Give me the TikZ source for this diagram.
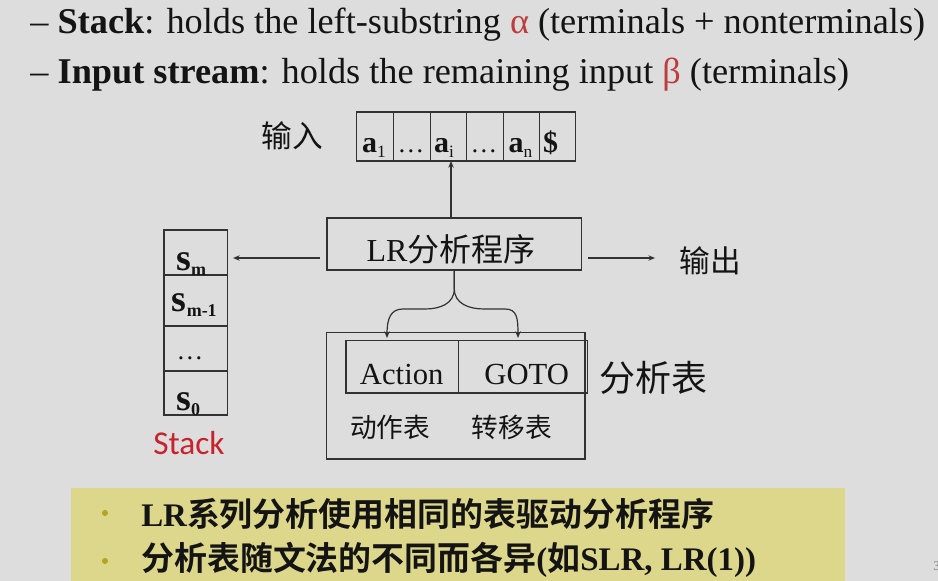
\documentclass[tikz,border=0pt]{standalone}
\usepackage{fontspec}
\setmainfont{Liberation Serif}
\newfontfamily\cjk{Noto Sans CJK SC}[BoldFont={Noto Sans CJK SC Bold}]
\newfontfamily\labelsans{Carlito}
\usetikzlibrary{arrows.meta}

\definecolor{bg}{RGB}{221,221,221}
\definecolor{notebg}{RGB}{221,215,140}
\definecolor{bulletc}{RGB}{178,165,40}
\definecolor{linec}{RGB}{50,50,50}
\definecolor{textc}{RGB}{20,20,20}
\definecolor{greek}{RGB}{190,60,60}
\definecolor{stackred}{RGB}{200,35,45}

\newcommand{\fsz}[1]{\fontsize{#1}{#1}\selectfont}
\newcommand{\tapeidx}[1]{\raisebox{-0.35ex}{\fsz{13pt}#1}}
\newcommand{\stackidx}[1]{\raisebox{-0.3ex}{\fsz{13.5pt}\bfseries #1}}

\tikzset{
  box/.style={draw=linec, line width=1.1pt},
  arr/.style={draw=linec, line width=0.9pt, -{Stealth[length=5pt,width=4pt]}},
  txt/.style={text=textc, inner sep=0pt},
}

\begin{document}
\begin{tikzpicture}[x=0.75pt,y=-0.75pt]
  % page
  \fill[bg] (0,0) rectangle (938,581);
  \useasboundingbox (0,0) rectangle (938,581);

  % heading lines
  \node[txt, anchor=base west, font=\fsz{27.2pt}] (l1) at (30,34)
    {– \textbf{Stack}: holds the left-substring {\color{greek}α} (terminals + nonterminals)};
  \node[txt, anchor=base west, font=\fsz{27.2pt}] (l2) at (30,84)
    {– \textbf{Input stream}: holds the remaining input {\color{greek}β} (terminals)};

  % input tape
  \draw[box] (356.7,112) rectangle (575.7,161);
  \foreach \x in {393.3,430.7,466.7,503.3,539.3}
    \draw[box] (\x,112) -- (\x,161);
  \node[txt, font=\fsz{23pt}\cjk] (inlab) at (292,136) {输入};
  \node[txt, anchor=base, font=\fsz{22.5pt}] (t1) at (374,153) {\textbf{a}\tapeidx{1}};
  \node[txt, anchor=base, font=\fsz{20pt}] (t2) at (411,153) {\ldots};
  \node[txt, anchor=base, font=\fsz{22.5pt}] (t3) at (444,153) {\textbf{a}\tapeidx{i}};
  \node[txt, anchor=base, font=\fsz{20pt}] (t4) at (484,153) {\ldots};
  \node[txt, anchor=base, font=\fsz{22.5pt}] (t5) at (520.5,153) {\textbf{a}\tapeidx{n}};
  \node[txt, anchor=base, font=\fsz{22.5pt}] (t6) at (550.5,153) {\textbf{\$}};
  \coordinate (ai) at (451,161);

  % driver program
  \node[box, minimum width=191pt, minimum height=39pt, inner sep=0pt] (lr) at (454.3,244) {};
  \node[txt, font=\fsz{24pt}] (lrtext) at (451,249) {LR{\cjk 分析程序}};
  \draw[arr] (lr.north -| ai) -- (ai);

  % stack
  \draw[box] (164,230) rectangle (227.7,415);
  \foreach \y in {275,326,371}
    \draw[box] (164,\y) -- (227.7,\y);
  \node[txt, anchor=base west, font=\fsz{28.5pt}] (sm) at (176,270) {\textbf{s}\stackidx{m}};
  \node[txt, anchor=base west, font=\fsz{28.5pt}] (sm1) at (171.7,311.7) {\textbf{s}\stackidx{m-1}};
  \node[txt, font=\fsz{20pt}] (sdots) at (190,358) {\ldots};
  \node[txt, anchor=base west, font=\fsz{28.5pt}] (s0) at (176,410) {\textbf{s}\stackidx{0}};
  \node[inner sep=0pt, text=stackred, font=\fsz{25pt}\labelsans] (stacklab) at (189,443) {Stack};

  \coordinate (lrleft) at (320,258);
  \coordinate (stacktop) at (233,258);
  \draw[arr] (lrleft) -- (stacktop);

  % output
  \node[txt, font=\fsz{23pt}\cjk] (outlab) at (710,261) {输出};
  \coordinate (lrright) at (588,258);
  \draw[arr] (lrright) -- ([xshift=-18pt]outlab.west |- lrright);

  % parsing table
  \draw[box] (326.7,332.7) rectangle (585,459);
  \draw[box] (346,340.7) rectangle (587.7,393);
  \draw[box] (458.3,340.7) -- (458.3,393);
  \node[txt, font=\fsz{23pt}] (action) at (401.7,374) {Action};
  \node[txt, font=\fsz{23pt}] (goto) at (526.7,374) {GOTO};
  \node[txt, font=\fsz{27pt}\cjk] (tablab) at (653,378) {分析表};
  \node[txt, font=\fsz{20pt}\cjk] (actlab) at (390,427) {动作表};
  \node[txt, font=\fsz{20pt}\cjk] (golab) at (511.7,427) {转移表};

  % brace-shaped fork from the driver to both tables
  \coordinate (actin) at (387,338);
  \coordinate (gotoin) at (518,338);
  \draw[arr] (lr.south) -- ++(0,18) .. controls +(0,15) and (440,309) .. (425,309)
    -- (403,309) .. controls (391,309) and (387,318) .. (actin);
  \draw[arr] (lr.south) -- ++(0,18) .. controls +(0,15) and (469,309) .. (484,309)
    -- (505,309) .. controls (517,309) and (518,318) .. (gotoin);

  % summary notes
  \fill[notebg] (71,488) rectangle (845,581);
  \fill[bulletc] (105,513) circle[radius=2.3pt];
  \fill[bulletc] (105,561) circle[radius=2.3pt];
  \node[txt, anchor=west, font=\fsz{24.7pt}\bfseries] (n1) at (141,514)
    {LR{\cjk 系列分析使用相同的表驱动分析程序}};
  \node[txt, anchor=west, font=\fsz{24.7pt}\bfseries] (n2) at (141,560)
    {{\cjk 分析表随文法的不同而各异}({\cjk 如}SLR, LR(1))};

  % page number at the right edge
  \node[anchor=west, inner sep=0pt, text=gray, font=\fsz{10pt}] (pg) at (933,566) {3};
\end{tikzpicture}
\end{document}
